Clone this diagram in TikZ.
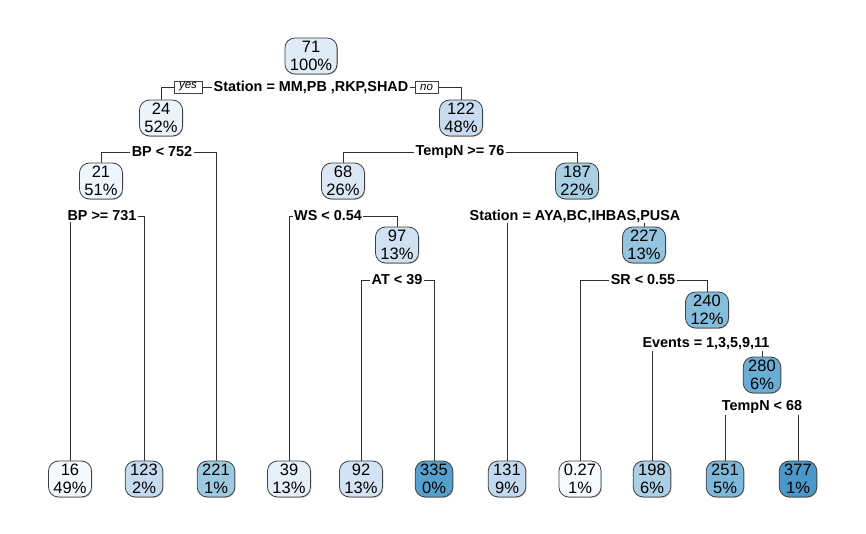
\documentclass[tikz,border=0pt]{standalone}
\usepackage{fontspec}
\setmainfont{Liberation Sans}
\usetikzlibrary{backgrounds,shadows}
\definecolor{boxline}{HTML}{404040}
\definecolor{lineclr}{HTML}{303030}
\definecolor{c71}{HTML}{DFEBF7}
\definecolor{c24}{HTML}{EBF3FB}
\definecolor{c122}{HTML}{C8DCF0}
\definecolor{c21}{HTML}{F0F6FD}
\definecolor{c68}{HTML}{DAE8F5}
\definecolor{c187}{HTML}{A9CFE5}
\definecolor{c97}{HTML}{D0E2F2}
\definecolor{c227}{HTML}{94C4DF}
\definecolor{c240}{HTML}{86BCDC}
\definecolor{c280}{HTML}{6AAED6}
\definecolor{c16}{HTML}{F4F9FE}
\definecolor{c123}{HTML}{C6DBEF}
\definecolor{c221}{HTML}{9DCAE1}
\definecolor{c39}{HTML}{E6F0FA}
\definecolor{c92}{HTML}{D3E3F3}
\definecolor{c335}{HTML}{56A0CE}
\definecolor{c131}{HTML}{C3DAEE}
\definecolor{c027}{HTML}{F7FBFF}
\definecolor{c198}{HTML}{ABCFE5}
\definecolor{c251}{HTML}{7DB8DA}
\definecolor{c377}{HTML}{4A98C9}
\begin{document}
\begin{tikzpicture}[x=1pt,y=-1pt,
  tn/.style={draw=boxline, line width=0.8pt, rounded corners=10pt, align=center,
    font=\fontsize{16.5}{18}\selectfont, inner xsep=5pt, inner ysep=2.5pt,
    minimum height=36pt,
    drop shadow={shadow xshift=0.8pt, shadow yshift=-0.8pt, fill=black!50}},
  sl/.style={fill=white, inner xsep=1.5pt, inner ysep=1pt,
    font=\fontsize{14.4}{16}\selectfont\bfseries},
  yn/.style={draw=boxline, fill=white, line width=0.6pt,
    font=\fontsize{11.5}{12}\selectfont\itshape, inner xsep=5pt, inner ysep=0pt,
    minimum height=12pt},
  cn/.style={draw=lineclr, line width=0.9pt}]
\useasboundingbox (0,0) rectangle (866,534);

% internal nodes
\node[tn, fill=c71]  (n71)  at (311,56)  {71\\100\%};
\node[tn, fill=c24]  (n24)  at (161,118) {24\\52\%};
\node[tn, fill=c122] (n122) at (461,118) {122\\48\%};
\node[tn, fill=c21]  (n21)  at (101,181) {21\\51\%};
\node[tn, fill=c68]  (n68)  at (343,181) {68\\26\%};
\node[tn, fill=c187] (n187) at (577,181) {187\\22\%};
\node[tn, fill=c97]  (n97)  at (397,245) {97\\13\%};
\node[tn, fill=c227] (n227) at (644,245) {227\\13\%};
\node[tn, fill=c240] (n240) at (707,310) {240\\12\%};
\node[tn, fill=c280] (n280) at (762,375) {280\\6\%};

% leaves
\node[tn, fill=c16]  (l16)  at (70,479)  {16\\49\%};
\node[tn, fill=c123] (l123) at (144,479) {123\\2\%};
\node[tn, fill=c221] (l221) at (216,479) {221\\1\%};
\node[tn, fill=c39]  (l39)  at (289,479) {39\\13\%};
\node[tn, fill=c92]  (l92)  at (361,479) {92\\13\%};
\node[tn, fill=c335] (l335) at (434,479) {335\\0\%};
\node[tn, fill=c131] (l131) at (507,479) {131\\9\%};
\node[tn, fill=c027] (l027) at (580,479) {0.27\\1\%};
\node[tn, fill=c198] (l198) at (652,479) {198\\6\%};
\node[tn, fill=c251] (l251) at (725,479) {251\\5\%};
\node[tn, fill=c377] (l377) at (798,479) {377\\1\%};

% split labels
\node[sl] (s1) at (311,87)   {Station = MM,PB ,RKP,SHAD};
\node[sl] (s2) at (162,152)  {BP < 752};
\node[sl] (s3) at (460,152)  {TempN >= 76};
\node[sl] (s4) at (102,216)  {BP >= 731};
\node[sl] (s5) at (328,216)  {WS < 0.54};
\node[sl] (s6) at (575,216)  {Station = AYA,BC,IHBAS,PUSA};
\node[sl] (s7) at (397,280)  {AT < 39};
\node[sl] (s8) at (643,280)  {SR < 0.55};
\node[sl] (s9) at (706,344)  {Events = 1,3,5,9,11};
\node[sl] (s10) at (762,407) {TempN < 68};

% yes / no
\node[yn] (yes) at (188,87) {yes};
\node[yn] (no)  at (426.5,87) {no};

\begin{scope}[on background layer]
\fill[white] (0,0) rectangle (866,534);
\draw[cn] (s1.center) -| (n24);
\draw[cn] (s1.center) -| (n122);
\draw[cn] (s2.center) -| (n21);
\draw[cn] (s2.center) -| (l221);
\draw[cn] (s3.center) -| (n68);
\draw[cn] (s3.center) -| (n187);
\draw[cn] (s4.center) -| (l16);
\draw[cn] (s4.center) -| (l123);
\draw[cn] (s5.center) -| (l39);
\draw[cn] (s5.center) -| (n97);
\draw[cn] (s6.center) -| (l131);
\draw[cn] (s6.center) -| (n227);
\draw[cn] (s7.center) -| (l92);
\draw[cn] (s7.center) -| (l335);
\draw[cn] (s8.center) -| (l027);
\draw[cn] (s8.center) -| (n240);
\draw[cn] (s9.center) -| (l198);
\draw[cn] (s9.center) -| (n280);
\draw[cn] (s10.center) -| (l251);
\draw[cn] (s10.center) -| (l377);
\end{scope}
\end{tikzpicture}
\end{document}
